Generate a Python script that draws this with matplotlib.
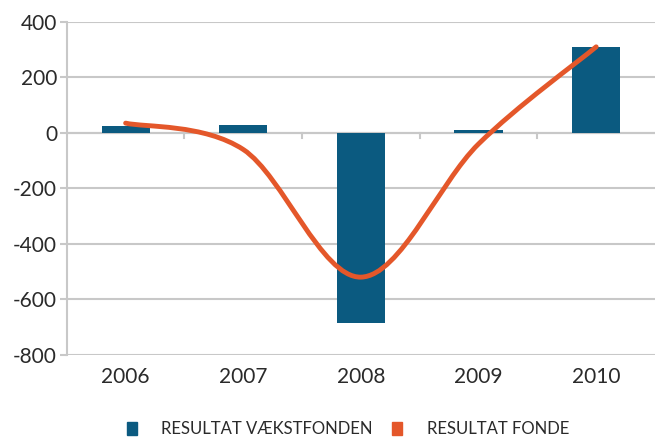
import numpy as np
import matplotlib.pyplot as plt
from matplotlib.path import Path
from matplotlib.patches import PathPatch, Patch

years = ['2006', '2007', '2008', '2009', '2010']
vaekstfonden = [25, 30, -685, 10, 310]
fonde = [35, -60, -520, -40, 310]

blue = '#0b5a80'
orange = '#e4572a'
grid = '#c8c8c8'

plt.rcParams['font.family'] = ['Lato', 'DejaVu Sans']
plt.rcParams['axes.unicode_minus'] = False

fig = plt.figure(figsize=(6.55, 4.37), dpi=100)
ax = fig.add_axes([0.102, 0.188, 0.898, 0.762])

x = np.arange(len(years))
ax.bar(x, vaekstfonden, width=0.41, color=blue, zorder=3)

# smoothed line (catmull-rom style bezier between the data points)
pts = np.column_stack([x, fonde]).astype(float)
verts = [pts[0]]
codes = [Path.MOVETO]
n = len(pts)
for i in range(n - 1):
    p0 = pts[i - 1] if i > 0 else pts[i]
    p1 = pts[i]
    p2 = pts[i + 1]
    p3 = pts[i + 2] if i + 2 < n else pts[i + 1]
    c1 = p1 + (p2 - p0) / 6.0
    c2 = p2 - (p3 - p1) / 6.0
    verts += [c1, c2, p2]
    codes += [Path.CURVE4] * 3
ax.add_patch(PathPatch(Path(verts, codes), facecolor='none', edgecolor=orange,
                       lw=3.5, capstyle='round', zorder=4))

ax.set_xlim(-0.5, len(years) - 0.5)
ax.set_ylim(-800, 400)
ax.set_yticks(range(-800, 401, 200))
ax.set_xticks(x)
ax.set_xticklabels(years)
ax.tick_params(axis='x', length=0, pad=9, labelsize=15, labelcolor='#2a2a2a')
ax.tick_params(axis='y', length=5, width=1.5, color=grid, pad=2, labelsize=15, labelcolor='#2a2a2a')
ax.yaxis.grid(True, color=grid, lw=1.5, zorder=0)
ax.set_axisbelow(True)
for s in ['top', 'right', 'bottom']:
    ax.spines[s].set_visible(False)
ax.spines['left'].set_color(grid)
ax.spines['left'].set_linewidth(1.5)

# category axis crossing at zero with boundary ticks
ax.axhline(0, color=grid, lw=1.5, zorder=1)
for b in np.arange(0.5, len(years) - 0.5, 1):
    ax.plot([b, b], [0, -18], color=grid, lw=1.5, zorder=1)

handles = [Patch(color=blue, label='RESULTAT VÆKSTFONDEN'),
           Patch(color=orange, label='RESULTAT FONDE')]
fig.legend(handles=handles, loc='lower center', bbox_to_anchor=(0.531, -0.035), ncol=2,
           frameon=False, fontsize=12, handlelength=0.6, handleheight=0.9,
           handletextpad=1.45, columnspacing=1.2, labelcolor='#2a2a2a')

fig.savefig('out.png', dpi=100)
